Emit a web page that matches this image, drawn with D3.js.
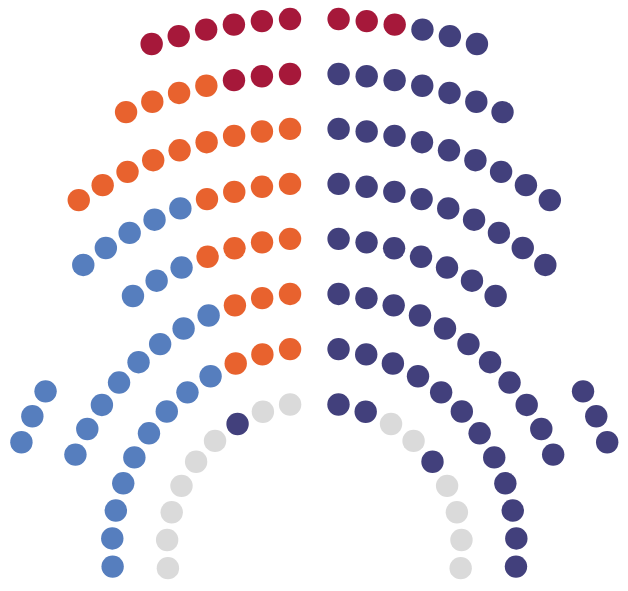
<!DOCTYPE html>
<html>
<head>
<meta charset="utf-8">
<script src="https://cdn.jsdelivr.net/npm/d3@7"></script>
<style>
  html, body { margin: 0; padding: 0; background: #ffffff; }
  svg { display: block; }
</style>
</head>
<body>
<svg id="chart" width="628" height="591"></svg>
<script>
// ---- Data -------------------------------------------------------------
// Party codes and names (no legend is shown in the chart)
const partyCodes = ["R", "O", "B", "N", "G"];
const partyNames = ["Red group", "Orange group", "Blue group", "Navy group", "Grey group"];
const partyColors = ["#A6183A", "#E8622E", "#567EBE", "#42407C", "#DADADA"];

// Seat rows, listed from the outermost (top) row to the innermost row.
// Each string lists seats from the central aisle outwards; "|" marks a passage.
const rowsLeft = [
  "RRRRRR",
  "RRROOOO",
  "OOOOOOOOO",
  "OOOOBBBBB",
  "OOOOBBB|BBB",
  "OOOBBBBBBBB",
  "OOOBBBBBBBBB",
  "GGNGGGGGG"
];
const rowsRight = [
  "RRRNNN",
  "NNNNNNN",
  "NNNNNNNNN",
  "NNNNNNNNN",
  "NNNNNNN|NNN",
  "NNNNNNNNNNN",
  "NNNNNNNNNNNN",
  "NNGGNGGGG"
];

// ---- Layout -------------------------------------------------------------
const W = 628, H = 591;
const cx = 314.3, cy = 550;
const aisle = 24.3;      // arc distance from the axis to the first seat
const pitch = 28.2;      // arc distance between neighbouring seats
const passage = 3.62;    // extra seat-slots skipped at a "|" passage
const dotR = 11.2;

const rScale = d3.scaleLinear()
  .domain([0, rowsLeft.length - 1])
  .range([531.5, 147.5]);

const color = d3.scaleOrdinal().domain(partyCodes).range(partyColors);
const nameOf = d3.scaleOrdinal().domain(partyCodes).range(partyNames);

const seats = [];
function addRow(str, rowIndex, side) {
  const R = rScale(rowIndex);
  let slot = 0;
  for (const ch of str) {
    if (ch === "|") { slot += passage; continue; }
    const theta = (aisle + slot * pitch) / R;
    seats.push({
      party: ch,
      row: rowIndex,
      x: cx + side * R * Math.sin(theta),
      y: cy - R * Math.cos(theta)
    });
    slot += 1;
  }
}
rowsLeft.forEach((s, i) => addRow(s, i, -1));
rowsRight.forEach((s, i) => addRow(s, i, 1));

const svg = d3.select("#chart");
svg.append("rect").attr("width", W).attr("height", H).attr("fill", "#ffffff");

svg.append("g")
  .selectAll("circle")
  .data(seats)
  .join("circle")
  .attr("cx", d => d.x)
  .attr("cy", d => d.y)
  .attr("r", dotR)
  .attr("fill", d => color(d.party))
  .append("title")
  .text(d => nameOf(d.party));
</script>
</body>
</html>
